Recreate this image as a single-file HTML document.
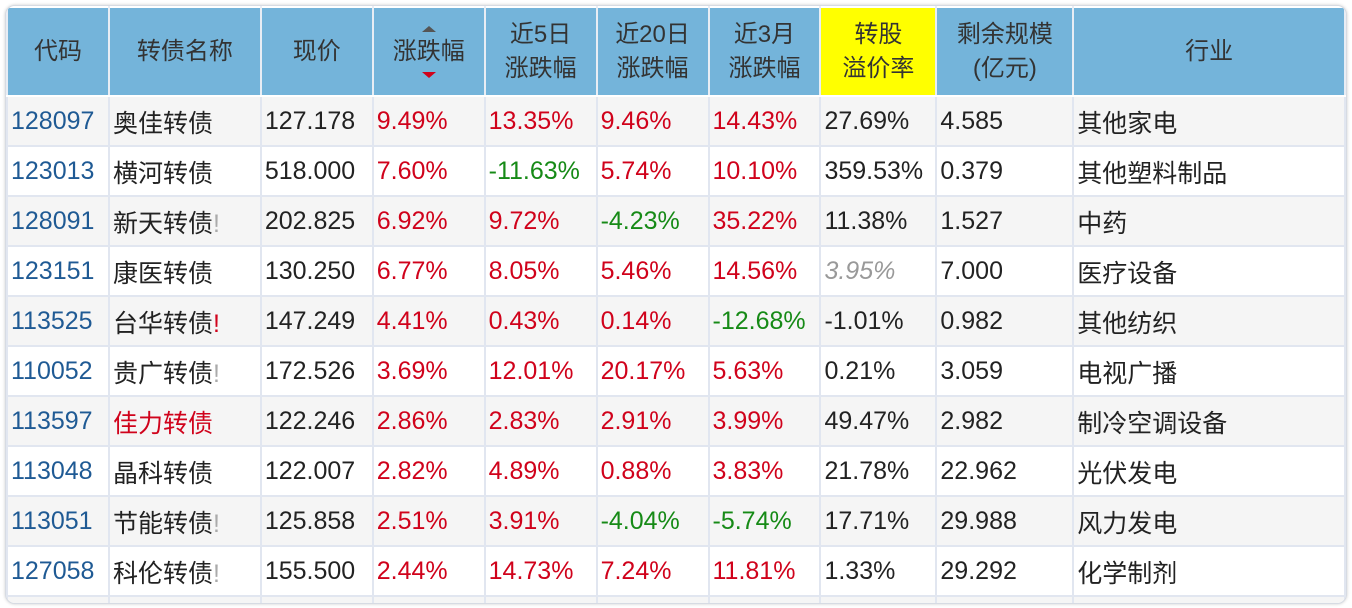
<!DOCTYPE html>
<html><head><meta charset="utf-8"><style>
body{margin:0;width:1352px;height:608px;background:#fff;overflow:hidden;font-family:"Liberation Sans","Noto Sans CJK SC",sans-serif;}
.wrap{position:absolute;left:5px;top:5px;width:1340px;height:597px;border:1px solid #d6dbe3;border-radius:10px;overflow:hidden;box-shadow:0 0 3px #ccc;background:#fff}
table{position:absolute;left:0px;top:0px;border-collapse:collapse;table-layout:fixed;font-size:25px;color:#222}
td,th{border:2px solid #e1e6f0;padding:2px 0 1px 3px;height:45px;white-space:nowrap;overflow:hidden}
th{background:#74b4da;font-weight:normal;text-align:center;height:87px;line-height:34px;border-color:#fff #e8edf4;padding:0;position:relative;font-size:24px;color:#333}
tr:nth-child(even) td{background:#f5f5f5}
tr:nth-child(odd) td{background:#fff}
.y{background:#ffff00}
.c{color:#1f5a94}.r{color:#d0021b}.g{color:#168a16}.gr{color:#999;font-style:italic}
.ex{color:#aaa}.exr{color:#d0021b}
.up{position:absolute;left:50%;top:18px;margin-left:-7px;border:7px solid transparent;border-bottom:6px solid #555;border-top:0}
.dn{position:absolute;left:50%;bottom:17px;margin-left:-7px;border:7px solid transparent;border-top:6px solid #d0021b;border-bottom:0}
</style></head><body><div class="wrap"><table>
<colgroup><col style="width:102px"><col style="width:152px"><col style="width:112px"><col style="width:112px"><col style="width:112px"><col style="width:112px"><col style="width:112px"><col style="width:116px"><col style="width:137px"><col style="width:272px"></colgroup>
<tr><th>代码</th><th>转债名称</th><th>现价</th><th><span class="up"></span>涨跌幅<span class="dn"></span></th><th>近5日<br>涨跌幅</th><th>近20日<br>涨跌幅</th><th>近3月<br>涨跌幅</th><th class="y">转股<br>溢价率</th><th>剩余规模<br>(亿元)</th><th>行业</th></tr>
<tr><td class="c">128097</td><td>奥佳转债</td><td>127.178</td><td class="r">9.49%</td><td class="r">13.35%</td><td class="r">9.46%</td><td class="r">14.43%</td><td>27.69%</td><td>4.585</td><td>其他家电</td></tr>
<tr><td class="c">123013</td><td>横河转债</td><td>518.000</td><td class="r">7.60%</td><td class="g">-11.63%</td><td class="r">5.74%</td><td class="r">10.10%</td><td>359.53%</td><td>0.379</td><td>其他塑料制品</td></tr>
<tr><td class="c">128091</td><td>新天转债<span class="ex">!</span></td><td>202.825</td><td class="r">6.92%</td><td class="r">9.72%</td><td class="g">-4.23%</td><td class="r">35.22%</td><td>11.38%</td><td>1.527</td><td>中药</td></tr>
<tr><td class="c">123151</td><td>康医转债</td><td>130.250</td><td class="r">6.77%</td><td class="r">8.05%</td><td class="r">5.46%</td><td class="r">14.56%</td><td class="gr">3.95%</td><td>7.000</td><td>医疗设备</td></tr>
<tr><td class="c">113525</td><td>台华转债<span class="exr">!</span></td><td>147.249</td><td class="r">4.41%</td><td class="r">0.43%</td><td class="r">0.14%</td><td class="g">-12.68%</td><td>-1.01%</td><td>0.982</td><td>其他纺织</td></tr>
<tr><td class="c">110052</td><td>贵广转债<span class="ex">!</span></td><td>172.526</td><td class="r">3.69%</td><td class="r">12.01%</td><td class="r">20.17%</td><td class="r">5.63%</td><td>0.21%</td><td>3.059</td><td>电视广播</td></tr>
<tr><td class="c">113597</td><td class="r">佳力转债</td><td>122.246</td><td class="r">2.86%</td><td class="r">2.83%</td><td class="r">2.91%</td><td class="r">3.99%</td><td>49.47%</td><td>2.982</td><td>制冷空调设备</td></tr>
<tr><td class="c">113048</td><td>晶科转债</td><td>122.007</td><td class="r">2.82%</td><td class="r">4.89%</td><td class="r">0.88%</td><td class="r">3.83%</td><td>21.78%</td><td>22.962</td><td>光伏发电</td></tr>
<tr><td class="c">113051</td><td>节能转债<span class="ex">!</span></td><td>125.858</td><td class="r">2.51%</td><td class="r">3.91%</td><td class="g">-4.04%</td><td class="g">-5.74%</td><td>17.71%</td><td>29.988</td><td>风力发电</td></tr>
<tr><td class="c">127058</td><td>科伦转债<span class="ex">!</span></td><td>155.500</td><td class="r">2.44%</td><td class="r">14.73%</td><td class="r">7.24%</td><td class="r">11.81%</td><td>1.33%</td><td>29.292</td><td>化学制剂</td></tr>
<tr><td></td><td></td><td></td><td></td><td></td><td></td><td></td><td></td><td></td><td></td></tr>
</table></div></body></html>
